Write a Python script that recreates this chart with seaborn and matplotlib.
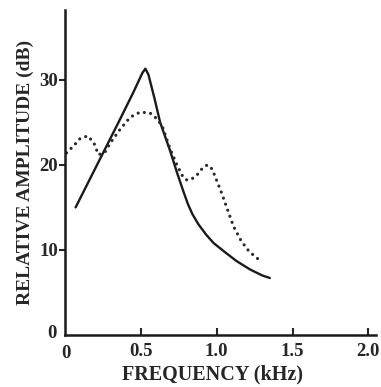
import matplotlib
matplotlib.use("Agg")
import matplotlib.pyplot as plt
import seaborn as sns
import pandas as pd

# Solid curve (kHz, dB)
solid_freq = [0.07, 0.2, 0.35, 0.45, 0.51, 0.53, 0.55, 0.59, 0.627, 0.69, 0.74, 0.78, 0.81, 0.84, 0.88, 0.93, 0.98, 1.05, 1.13, 1.22, 1.30, 1.35]
solid_db   = [15.0, 19.6, 24.9, 28.5, 30.8, 31.3, 30.6, 27.8, 25.0, 21.8, 19.0, 16.9, 15.4, 14.2, 13.0, 11.8, 10.8, 9.8, 8.7, 7.7, 7.0, 6.7]

# Dotted curve (kHz, dB)
dot_freq = [0.01, 0.06, 0.10, 0.15, 0.19, 0.22, 0.26, 0.30, 0.36, 0.43, 0.495, 0.56, 0.60, 0.64, 0.69, 0.74, 0.78, 0.805, 0.84, 0.87, 0.91, 0.94, 0.97, 0.99, 1.03, 1.06, 1.11, 1.16, 1.21, 1.26, 1.30]
dot_db   = [21.4, 22.3, 23.1, 23.4, 22.6, 21.2, 21.4, 22.6, 24.1, 25.6, 26.2, 26.1, 25.5, 24.6, 22.0, 19.9, 18.5, 18.2, 18.4, 18.8, 19.7, 20.0, 19.5, 18.6, 16.8, 15.3, 12.8, 11.1, 9.9, 9.1, 8.6]

xticks = [0, 0.5, 1.0, 1.5, 2.0]
xtick_labels = ["0", "0.5", "1.0", "1.5", "2.0"]
yticks = [0, 10, 20, 30]
ytick_labels = ["0", "10", "20", "30"]

sns.set_style("ticks")
plt.rcParams['font.family'] = ['Liberation Serif', 'DejaVu Serif']
plt.rcParams['font.weight'] = 'bold'

fig = plt.figure(figsize=(3.81, 3.87), dpi=100)
ax = fig.add_axes([65/381, 52/387, 311/381, 325/387])

df_s = pd.DataFrame({"f": solid_freq, "a": solid_db})
df_d = pd.DataFrame({"f": dot_freq, "a": dot_db})
sns.lineplot(data=df_s, x="f", y="a", ax=ax, color="#1a1a1a", lw=1.7, sort=False)
sns.lineplot(data=df_d, x="f", y="a", ax=ax, color="#2a2a2a", lw=2.3, sort=False,
             linestyle=(0, (0.01, 2.0)))
for l in ax.lines:
    if l.get_linestyle() != '-':
        l.set_dash_capstyle('round')
    else:
        l.set_solid_joinstyle('round')

ax.set_xlim(0, 2.05)
ax.set_ylim(0, 38.2)
sns.despine(ax=ax)
for s in ["left", "bottom"]:
    ax.spines[s].set_linewidth(1.8)
    ax.spines[s].set_color("#1a1a1a")

ax.set_xticks(xticks[1:])
ax.set_xticklabels(xtick_labels[1:], fontsize=13.5, fontweight='bold')
ax.set_yticks(yticks[1:])
ax.set_yticklabels(ytick_labels[1:], fontsize=13.5, fontweight='bold')
ax.tick_params(axis='x', direction='in', length=5, width=1.5, pad=6)
ax.tick_params(axis='y', direction='out', length=4, width=1.5, pad=1)
ax.annotate(ytick_labels[0], xy=(0, 0), xycoords='data', xytext=(-13, 2), textcoords='offset pixels',
            ha='center', va='center', fontsize=13.5, fontweight='bold')
ax.annotate(xtick_labels[0], xy=(0, 0), xycoords='data', xytext=(1, -18), textcoords='offset pixels',
            ha='center', va='center', fontsize=13.5, fontweight='bold')

ax.set_xlabel("FREQUENCY (kHz)", fontsize=14.5, fontweight='bold', labelpad=3)
ax.xaxis.set_label_coords(0.475, -0.092)
ax.set_ylabel("RELATIVE AMPLITUDE (dB)", fontsize=14, fontweight='bold', labelpad=4)

fig.savefig("out.png", dpi=100)
